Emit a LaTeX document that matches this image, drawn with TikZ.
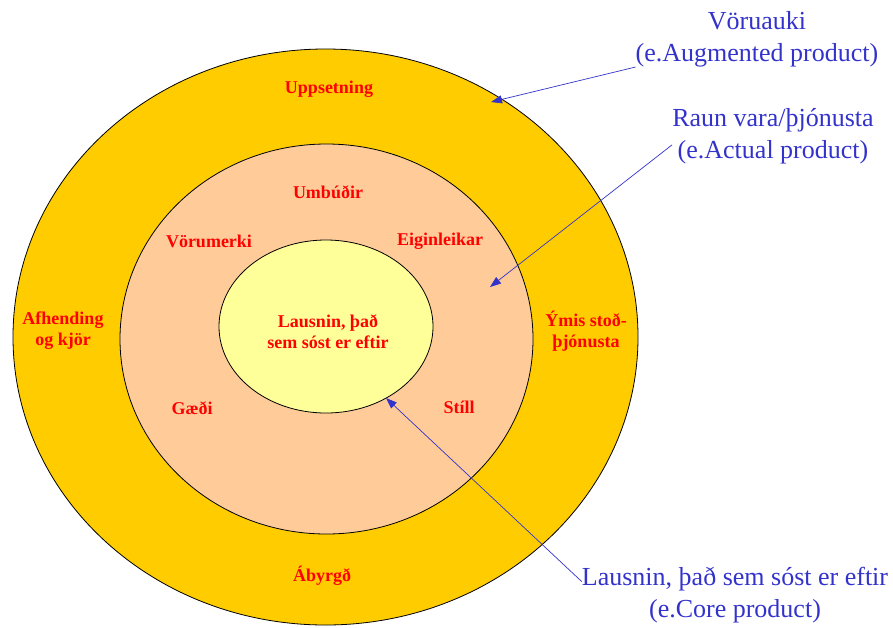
\documentclass[tikz,border=0pt]{standalone}
\usepackage{fontspec}
\setmainfont{Liberation Serif}
\usetikzlibrary{shapes.geometric,arrows.meta,positioning}
\definecolor{cGold}{RGB}{255,204,0}
\definecolor{cPeach}{RGB}{255,204,153}
\definecolor{cLemon}{RGB}{255,255,153}
\definecolor{cRedText}{RGB}{255,0,0}
\definecolor{cBlueText}{RGB}{51,51,204}
\tikzset{
  ring/.style={ellipse,draw=black,line width=0.8pt,inner sep=0pt},
  goldring/.style={ring,fill=cGold,minimum width=625pt,minimum height=576pt},
  peachring/.style={ring,fill=cPeach,minimum width=413pt,minimum height=390pt},
  lemonring/.style={ring,fill=cLemon,minimum width=214pt,minimum height=173pt},
  partlbl/.style={font=\fontsize{18}{21}\selectfont\bfseries,text=cRedText,
                  align=center,inner sep=0pt},
  namelbl/.style={font=\fontsize{26}{32}\selectfont,text=cBlueText,
                  align=center,inner sep=0pt},
  callarr/.style={-{Triangle[length=11pt,width=8pt]},color=cBlueText,line width=0.7pt}
}
\begin{document}
\begin{tikzpicture}[x=1pt,y=-1pt]
  \useasboundingbox (0,0) rectangle (893,627);

  % three product levels
  \node[goldring]  (augring)  at (325.5,337) {};
  \node[peachring] (actring)  at (326.5,339) {};
  \node[lemonring] (corering) at (326,326.5) {};

  % outer ring
  \node[partlbl] (setup)   at (329,89)  {Uppsetning};
  \node[partlbl] (deliver) at (63,331)  {Afhending\\og kjör};
  \node[partlbl] (support) at (586,331) {Ýmis stoð-\\þjónusta};
  \node[partlbl] (warrant) at (322,576) {Ábyrgð};

  % middle ring
  \node[partlbl] (pack)    at (328,192) {Umbúðir};
  \node[partlbl] (brand)   at (209,241) {Vörumerki};
  \node[partlbl] (feature) at (440,241) {Eiginleikar};
  \node[partlbl] (quality) at (192,408) {Gæði};
  \node[partlbl] (style)   at (459,407) {Stíll};

  % core
  \node[partlbl] (benefit) at (328,332) {Lausnin, það\\sem sóst er eftir};

  % callouts
  \node[namelbl] (augname)  at (757,39)  {Vöruauki\\(e.Augmented product)};
  \node[namelbl] (actname)  at (773,136) {Raun vara/þjónusta\\(e.Actual product)};
  \node[namelbl] (corename) at (735,595) {Lausnin, það sem sóst er eftir\\(e.Core product)};

  \coordinate (augtip)  at (491,102);
  \coordinate (acttip)  at (490,287);
  \coordinate (coretip) at (386,398);

  \draw[callarr] (augname.south west) -- (augtip);
  \draw[callarr] (actname.185) -- (acttip);
  \draw[callarr] (corename.175) -- (coretip);

\end{tikzpicture}
\end{document}
